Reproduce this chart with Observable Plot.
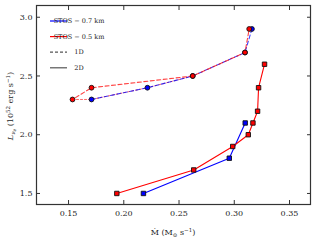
<!DOCTYPE html>
<html><head><meta charset="utf-8">
<script src="https://cdn.jsdelivr.net/npm/d3@7"></script>
<script src="https://cdn.jsdelivr.net/npm/@observablehq/plot@0.6"></script>
<style>body{margin:0;background:#fff}svg{font-family:"DejaVu Serif",serif}</style>
</head><body><div id="chart"></div>
<script>
// 2D runs (solid, squares)
const blue2D_x = [0.2178, 0.2955, 0.3099];
const blue2D_y = [1.5, 1.8, 2.1];
const red2D_x = [0.1937, 0.2633, 0.2986, 0.3127, 0.3169, 0.3211, 0.3220, 0.3274];
const red2D_y = [1.5, 1.7, 1.9, 2.0, 2.1, 2.2, 2.4, 2.6];
// 1D runs (dashed, circles)
const blue1D_x = [0.1708, 0.2214, 0.2624, 0.3097, 0.3160];
const blue1D_y = [2.3, 2.4, 2.5, 2.7, 2.9];
const red1D_x = [0.1536, 0.1708, 0.2624, 0.3097, 0.3135];
const red1D_y = [2.3, 2.4, 2.5, 2.7, 2.9];
// faint red dashed branch seen along the blue 1D track
const red1DBranch_x = [0.1536, 0.1708, 0.2214, 0.2624];
const red1DBranch_y = [2.3, 2.3, 2.4, 2.5];
const xTicks = [0.15, 0.20, 0.25, 0.30, 0.35];
const yTicks = [1.5, 2.0, 2.5, 3.0];
const legendLabels = ["STOS \u2212 0.7 km", "STOS \u2212 0.5 km", "1D", "2D"];

const pts = (xs, ys) => xs.map((x, i) => ({x, y: ys[i]}));
const B2 = pts(blue2D_x, blue2D_y), R2 = pts(red2D_x, red2D_y);
const B1 = pts(blue1D_x, blue1D_y), R1 = pts(red1D_x, red1D_y);
const RB = pts(red1DBranch_x, red1DBranch_y);
const BLUE = "#0000ff", RED = "#ff0000";

const plot = Plot.plot({
  width: 324, height: 245,
  marginLeft: 36, marginRight: 14, marginTop: 5, marginBottom: 41,
  style: {fontFamily: "DejaVu Serif, serif", fontSize: "8px", color: "#222", background: "#fff"},
  x: {domain: [0.121, 0.369], label: null},
  y: {domain: [1.406, 3.1], label: null},
  marks: [
    Plot.axisX({anchor: "bottom", ticks: xTicks, tickSize: -4, tickPadding: 10, tickFormat: d3.format(".2f"), stroke: "#333"}),
    Plot.axisX({anchor: "top", ticks: xTicks, tickSize: -4, tickFormat: () => "", stroke: "#333"}),
    Plot.axisY({anchor: "left", ticks: yTicks, tickSize: -4, tickPadding: 8, tickFormat: d3.format(".1f"), stroke: "#333"}),
    Plot.axisY({anchor: "right", ticks: yTicks, tickSize: -4, tickFormat: () => "", stroke: "#333"}),
    Plot.line(RB, {x: "x", y: "y", stroke: RED, strokeWidth: 1, strokeOpacity: 0.6, strokeDasharray: "2,2"}),
    Plot.line(B1, {x: "x", y: "y", stroke: BLUE, strokeWidth: 1.1, strokeOpacity: 0.75, strokeDasharray: "4,2.5"}),
    Plot.line(R1, {x: "x", y: "y", stroke: RED, strokeWidth: 1.1, strokeOpacity: 0.75, strokeDasharray: "4,2.5", strokeDashoffset: 3}),
    Plot.line(B2, {x: "x", y: "y", stroke: BLUE, strokeWidth: 1.1}),
    Plot.line(R2, {x: "x", y: "y", stroke: RED, strokeWidth: 1.1}),
    Plot.dot(B1, {x: "x", y: "y", r: 2.4, fill: BLUE, stroke: "#111", strokeWidth: 0.9}),
    Plot.dot(R1, {x: "x", y: "y", r: 2.4, fill: RED, stroke: "#111", strokeWidth: 0.9}),
    Plot.dot(B2, {x: "x", y: "y", symbol: "square", r: 2.5, fill: BLUE, stroke: "#111", strokeWidth: 0.9}),
    Plot.dot(R2, {x: "x", y: "y", symbol: "square", r: 2.5, fill: RED, stroke: "#111", strokeWidth: 0.9}),
    Plot.frame({stroke: "#333", strokeWidth: 1.2})
  ]
});
document.getElementById("chart").append(plot);

// Legend and axis titles (layout only)
const svg = d3.select(plot);
const lg = svg.append("g");
const legendStyles = [
  {stroke: BLUE, dash: null}, {stroke: RED, dash: null},
  {stroke: "#555", dash: "3,2"}, {stroke: "#555", dash: null}
];
legendLabels.forEach((t, i) => {
  const y = 21 + i * 15.6;
  lg.append("line").attr("x1", 50).attr("x2", 67).attr("y1", y).attr("y2", y)
    .attr("stroke", legendStyles[i].stroke).attr("stroke-width", 1.2)
    .attr("stroke-dasharray", legendStyles[i].dash);
  lg.append("text").attr("x", 79).attr("y", y).attr("dy", "0.35em")
    .attr("font-size", 6.5).attr("fill", "#222").text(t);
});
const xl = svg.append("text").attr("x", 173).attr("y", 235).attr("text-anchor", "middle")
  .attr("font-size", 8).attr("fill", "#222");
xl.append("tspan").text("\u1E40 (M");
xl.append("tspan").attr("font-size", 5.5).attr("dy", 2).text("\u2299");
xl.append("tspan").attr("dy", -2).text(" s");
xl.append("tspan").attr("font-size", 5.5).attr("dy", -3).text("\u22121");
xl.append("tspan").attr("dy", 3).text(")");
const yl = svg.append("text").attr("transform", "translate(13,106) rotate(-90)")
  .attr("text-anchor", "middle").attr("font-size", 8).attr("fill", "#222");
yl.append("tspan").attr("font-style", "italic").text("L");
yl.append("tspan").attr("font-size", 5.5).attr("dy", 2).attr("font-style", "italic").text("\u03BD");
yl.append("tspan").attr("font-size", 4.5).attr("dy", 1).attr("font-style", "italic").text("e");
yl.append("tspan").attr("dy", -3).text(" (10");
yl.append("tspan").attr("font-size", 5.5).attr("dy", -3).text("52");
yl.append("tspan").attr("dy", 3).text(" erg s");
yl.append("tspan").attr("font-size", 5.5).attr("dy", -3).text("\u22121");
yl.append("tspan").attr("dy", 3).text(")");
</script></body></html>
